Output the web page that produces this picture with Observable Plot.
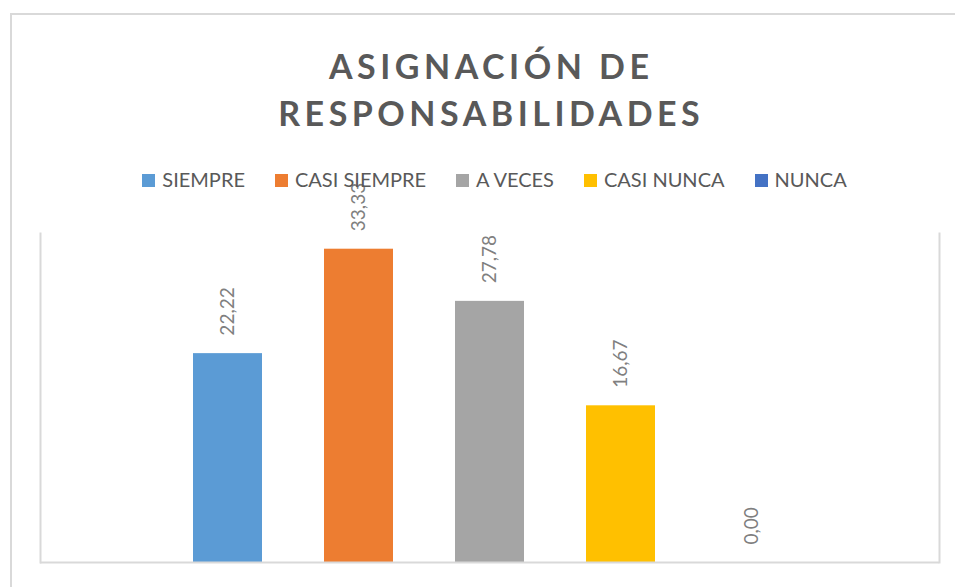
<!DOCTYPE html>
<html>
<head>
<meta charset="utf-8">
<script src="https://cdn.jsdelivr.net/npm/d3@7"></script>
<script src="https://cdn.jsdelivr.net/npm/@observablehq/plot@0.6"></script>
<style>
  body { margin: 0; background: #fff; }
  #chart { position: relative; width: 955px; height: 587px; overflow: hidden; background: #fff; font-family: Lato, "Open Sans", sans-serif; }
  #outer { position: absolute; left: 10px; top: 13px; width: 1000px; height: 700px; border-top: 2px solid #d9d9d9; border-left: 2px solid #d9d9d9; }
  #title { position: absolute; left: 0; width: 978px; top: 42px; text-align: center; font-weight: 700; font-size: 34px; line-height: 47px; color: #595959; letter-spacing: 4.5px; padding-left: 4.5px; box-sizing: border-box; }
  #legend { position: absolute; left: 0; width: 989px; top: 169px; display: flex; justify-content: center; gap: 30px; font-size: 20px; line-height: 20px; color: #595959; }
  .item { display: flex; align-items: center; white-space: nowrap; }
  .sw { width: 13px; height: 13px; margin-right: 7px; position: relative; top: 1px; }
  #plot { position: absolute; left: 0; top: 0; }
</style>
</head>
<body>
<div id="chart">
  <div id="outer"></div>
  <div id="plot"></div>
  <div id="title">ASIGNACIÓN DE<br>RESPONSABILIDADES</div>
  <div id="legend"></div>
</div>
<script>
const categories = ["SIEMPRE", "CASI SIEMPRE", "A VECES", "CASI NUNCA", "NUNCA"];
const values = [22.22, 33.33, 27.78, 16.67, 0.00];
const colors = ["#5B9BD5", "#ED7D31", "#A5A5A5", "#FFC000", "#4472C4"];

const data = categories.map((c, i) => ({cat: c, value: values[i]}));
const fmt = v => d3.format(".2f")(v).replace(".", ",");

const legend = document.getElementById("legend");
categories.forEach((c, i) => {
  const it = document.createElement("div");
  it.className = "item";
  const sw = document.createElement("span");
  sw.className = "sw";
  sw.style.background = colors[i];
  const t = document.createElement("span");
  t.textContent = c;
  it.appendChild(sw);
  it.appendChild(t);
  legend.appendChild(it);
});

const chart = Plot.plot({
  width: 955,
  height: 587,
  marginTop: 233,
  marginBottom: 25,
  marginLeft: 40,
  marginRight: 16,
  style: {background: "transparent", overflow: "visible"},
  x: {type: "band", domain: categories, range: [162, 817], paddingInner: 0.473, paddingOuter: 0.2365, axis: null},
  y: {domain: [0, 35], axis: null},
  color: {domain: categories, range: colors},
  marks: [
    Plot.frame({anchor: "left", stroke: "#d9d9d9", strokeWidth: 2}),
    Plot.frame({anchor: "right", stroke: "#d9d9d9", strokeWidth: 2}),
    Plot.barY(data, {x: "cat", y: "value", fill: "cat"}),
    Plot.ruleY([0], {stroke: "#d9d9d9", strokeWidth: 2}),
    Plot.text(data, {x: "cat", y: "value", text: d => fmt(d.value), rotate: -90, textAnchor: "start", lineAnchor: "middle", dy: -18, fill: "#7f7f7f", fontSize: 19, fontFamily: "Lato, 'Open Sans', sans-serif"})
  ]
});
document.getElementById("plot").appendChild(chart);
</script>
</body>
</html>
